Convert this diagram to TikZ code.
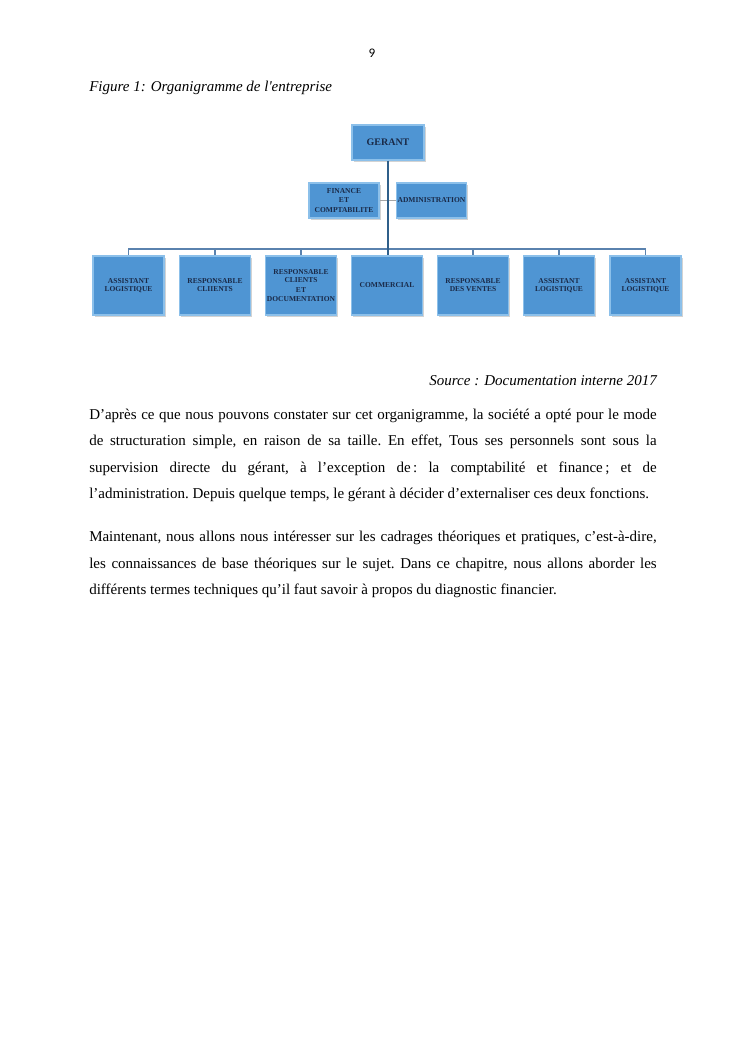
\documentclass[tikz,border=0pt]{standalone}
\usepackage{fontspec}
\setmainfont{Liberation Serif}
\newfontfamily\pagefont[Numbers=Lining]{Carlito}
\usetikzlibrary{shadows}
\definecolor{boxfill}{HTML}{4F95D3}
\definecolor{boxedge}{HTML}{8CC0EA}
\definecolor{boxtext}{HTML}{1A2A48}
\definecolor{trunk}{HTML}{2F5F8A}
\definecolor{busline}{HTML}{5A82AE}
\tikzset{
  orgbox/.style={draw=boxedge, line width=1pt, fill=boxfill,
    drop shadow={shadow xshift=1.2pt, shadow yshift=-1.2pt, opacity=0.35},
    text=boxtext, font=\fontsize{6}{6.4}\selectfont\bfseries, align=center,
    inner sep=1pt},
  topbox/.style={orgbox, minimum width=57.6pt, minimum height=28pt},
  midbox/.style={orgbox, minimum width=56pt, minimum height=28pt},
  lowbox/.style={orgbox, minimum width=56.8pt, minimum height=47.2pt},
  conn/.style={draw=busline, line width=1pt},
  trunkline/.style={draw=trunk, line width=1.6pt},
  sideline/.style={draw=gray!70, line width=0.6pt},
  bodyline/.style={anchor=base west, inner sep=0pt, font=\fontsize{12}{14}\selectfont\frenchspacing},
}
\begin{document}
\begin{tikzpicture}[x=0.8pt,y=-0.8pt]
\useasboundingbox (0,0) rectangle (745,1053);
% page number and captions
\node[anchor=base, inner sep=0pt, font=\pagefont\fontsize{10.5}{12}\selectfont] (pg) at (372,57) {9};
\node[bodyline, font=\fontsize{12}{14}\selectfont\itshape] (cap) at (89,91) {Figure 1: Organigramme de l\textquotesingle entreprise};
% org chart
\node[topbox, font=\fontsize{8}{9}\selectfont\bfseries] (g) at (388,142.5) {GERANT};
\node[midbox] (fin) at (344,200.5) {FINANCE\\[1pt] ET\\[1pt] COMPTABILITE};
\node[midbox] (adm) at (431.5,200.5) {ADMINISTRATION};
\node[lowbox] (c1) at (128.5,285.5) {ASSISTANT\\LOGISTIQUE};
\node[lowbox] (c2) at (215,285.5) {RESPONSABLE\\CLIIENTS};
\node[lowbox] (c3) at (301,285.5) {RESPONSABLE\\CLIENTS\\[1.5pt] ET\\[1pt] DOCUMENTATION};
\node[lowbox] (c4) at (387,285.5) {COMMERCIAL};
\node[lowbox] (c5) at (473,285.5) {RESPONSABLE\\DES VENTES};
\node[lowbox] (c6) at (559,285.5) {ASSISTANT\\LOGISTIQUE};
\node[lowbox] (c7) at (645.5,285.5) {ASSISTANT\\LOGISTIQUE};
\coordinate (bus) at (388,249);
\draw[sideline] (fin.east) -- (adm.west);
\foreach \c in {c1,c2,c3,c5,c6,c7} {\draw[conn] (bus) -| (\c.north);}
\draw[trunkline] (g.south) -- (bus) -- (c4.north -| bus);
% source
\node[anchor=base east, inner sep=0pt, font=\fontsize{12}{14}\selectfont\itshape] (src) at (657,385) {Source : Documentation interne 2017};
% paragraph 1
\node[bodyline] (p1a) at (89,419) {\makebox[454pt][s]{D’après ce que nous pouvons constater sur cet organigramme, la société a opté pour le mode}};
\node[bodyline] (p1b) at (89,445) {\makebox[454pt][s]{de structuration simple, en raison de sa taille. En effet, Tous ses personnels sont sous la}};
\node[bodyline] (p1c) at (89,472) {\makebox[454pt][s]{supervision directe du gérant, à l’exception de\,: la comptabilité et finance\,; et de}};
\node[bodyline] (p1d) at (89,498) {l’administration. Depuis quelque temps, le gérant à décider d’externaliser ces deux fonctions.};
% paragraph 2
\node[bodyline] (p2a) at (89,541) {\makebox[454pt][s]{Maintenant, nous allons nous intéresser sur les cadrages théoriques et pratiques, c’est-à-dire,}};
\node[bodyline] (p2b) at (89,568) {\makebox[454pt][s]{les connaissances de base théoriques sur le sujet. Dans ce chapitre, nous allons aborder les}};
\node[bodyline] (p2c) at (89,594) {différents termes techniques qu’il faut savoir à propos du diagnostic financier.};
\end{tikzpicture}
\end{document}
